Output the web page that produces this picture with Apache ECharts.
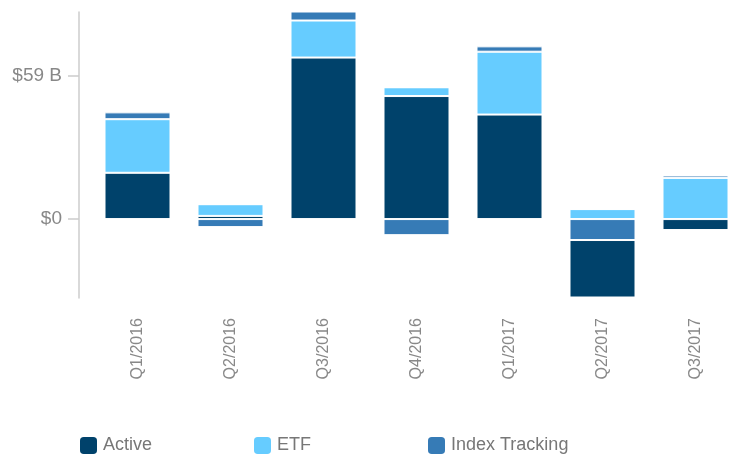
<!DOCTYPE html>
<html>
<head>
<meta charset="utf-8">
<script src="https://cdn.jsdelivr.net/npm/echarts@6/dist/echarts.min.js"></script>
<style>
  html, body { margin: 0; padding: 0; background: #fff; }
  #chart { width: 734px; height: 454px; }
</style>
</head>
<body>
<div id="chart"></div>
<script>
// quarterly flows, $ billions
var quarters = ['Q1/2016', 'Q2/2016', 'Q3/2016', 'Q4/2016', 'Q1/2017', 'Q2/2017', 'Q3/2017'];
var active = [19.0, 1.3, 66.3, 50.5, 42.9, -23.6, -4.5];
var etf = [22.0, 4.8, 15.2, 3.6, 25.8, 4.1, 16.9];
var indexTracking = [2.8, -3.3, 3.7, -6.6, 2.2, -8.6, 1.0];
var yTicks = [0, 59];
var legendNames = ['Active', 'ETF', 'Index Tracking'];

var colors = {
    active: '#00426b',
    etf: '#66ccff',
    index: '#367bb6'
};
var font = 'Liberation Sans, Arial, sans-serif';

// index tracking outflows sit right under zero, inflows on top of the stack
var indexNeg = indexTracking.map(function (v) { return v < 0 ? v : 0; });
var indexPos = indexTracking.map(function (v) { return v > 0 ? v : 0; });

function bar(name, data, color) {
    return {
        name: name,
        type: 'bar',
        stack: 'flows',
        barWidth: 66,
        data: data,
        itemStyle: {
            color: color,
            borderColor: '#fff',
            borderWidth: 1
        }
    };
}

// one legend per item so they sit on an even spacing
var legends = legendNames.map(function (name, i) {
    return {
        data: [name],
        left: 78 + i * 174,
        top: 435,
        padding: 0,
        icon: 'roundRect',
        itemWidth: 19,
        itemHeight: 19,
        itemGap: 5,
        textStyle: {
            fontFamily: font,
            fontSize: 18,
            color: '#777'
        }
    };
});

var myChart = echarts.init(document.getElementById('chart'));
var option = {
    animation: false,
    textStyle: { fontFamily: font },
    grid: {
        left: 91,
        width: 651,
        top: 12,
        bottom: 156,
        outerBoundsMode: 'none'
    },
    legend: legends,
    xAxis: {
        type: 'category',
        data: quarters,
        axisLine: { show: false },
        axisTick: { show: false },
        axisLabel: {
            rotate: 90,
            margin: 20,
            fontSize: 16,
            color: '#888',
            fontFamily: font
        }
    },
    yAxis: {
        type: 'value',
        min: -32.4,
        max: 85,
        offset: 12,
        splitLine: { show: false },
        axisLine: {
            show: true,
            lineStyle: { color: '#ccc', width: 1.5 }
        },
        axisTick: {
            show: true,
            length: 11,
            customValues: yTicks,
            lineStyle: { color: '#ccc', width: 1.5 }
        },
        axisLabel: {
            customValues: yTicks,
            margin: 17,
            fontSize: 19,
            color: '#888',
            fontFamily: font,
            formatter: function (v) {
                return v === 0 ? '$0' : '$' + v + ' B';
            }
        }
    },
    series: [
        bar('Index Tracking', indexNeg, colors.index),
        bar('Active', active, colors.active),
        bar('ETF', etf, colors.etf),
        bar('Index Tracking', indexPos, colors.index)
    ]
};
myChart.setOption(option);
window.addEventListener('resize', function () {
    myChart.resize();
});
</script>
</body>
</html>
